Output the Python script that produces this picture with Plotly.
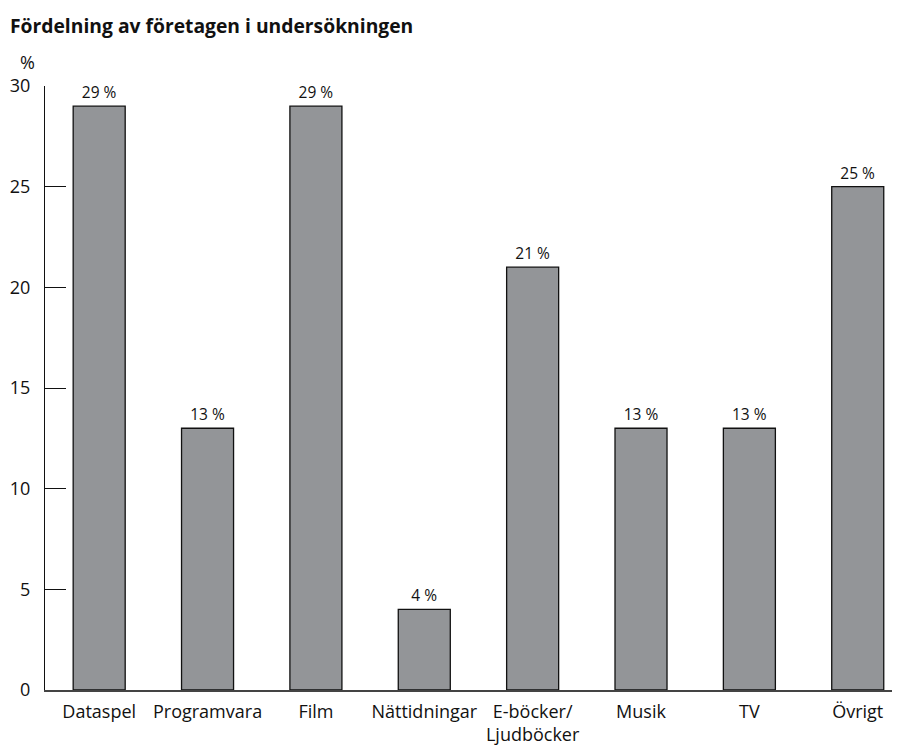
import plotly.graph_objects as go

categories = ["Dataspel", "Programvara", "Film", "Nättidningar", "E-böcker/<br>Ljudböcker", "Musik", "TV", "Övrigt"]
values = [29, 13, 29, 4, 21, 13, 13, 25]
y_ticks = [0, 5, 10, 15, 20, 25, 30]

FONT = "Open Sans"
W, H = 892, 738  # page has an 8px body margin

fig = go.Figure(go.Bar(
    x=list(range(len(categories))),
    y=values,
    width=0.48,
    marker=dict(color="#939598", line=dict(color="#111111", width=1.3)),
    text=[f"{v}\u00a0%" for v in values],
    textposition="outside",
    cliponaxis=False,
    textfont=dict(family=FONT, size=15.5, color="#111111"),
))

fig.update_layout(
    width=W, height=H,
    margin=dict(l=37, r=0, t=78, b=54),
    plot_bgcolor="white", paper_bgcolor="white",
    showlegend=False,
    font=dict(family=FONT, color="#111111"),
    title=dict(text="<b>Fördelning av företagen i undersökningen</b>",
               x=0, xanchor="left", xref="container", pad=dict(l=2),
               y=1 - 18 / H, yanchor="middle", yref="container",
               font=dict(family=FONT, size=19.3, color="#111111")),
)
fig.layout.annotations = [dict(text="%", x=-0.009, y=1.0 + 24 / 601, xref="paper", yref="paper",
                               xanchor="right", yanchor="middle", showarrow=False,
                               font=dict(family=FONT, size=18, color="#111111"))]

fig.update_xaxes(
    range=[-0.5, 7.39],
    tickmode="array", tickvals=list(range(len(categories))), ticktext=categories,
    showline=True, linecolor="#444444", linewidth=2,
    showgrid=False, zeroline=False, ticks="",
    tickfont=dict(family=FONT, size=18, color="#111111"),
    ticklabelstandoff=4,
)
fig.update_yaxes(
    range=[0, 30],
    tickmode="array", tickvals=y_ticks,
    showline=True, linecolor="#111111", linewidth=1.2,
    showgrid=False, zeroline=False,
    ticks="inside", ticklen=21, tickcolor="#111111", tickwidth=1.2,
    tickfont=dict(family=FONT, size=18, color="#111111"),
    ticklabelstandoff=10,
)

fig.write_html("out.html")
